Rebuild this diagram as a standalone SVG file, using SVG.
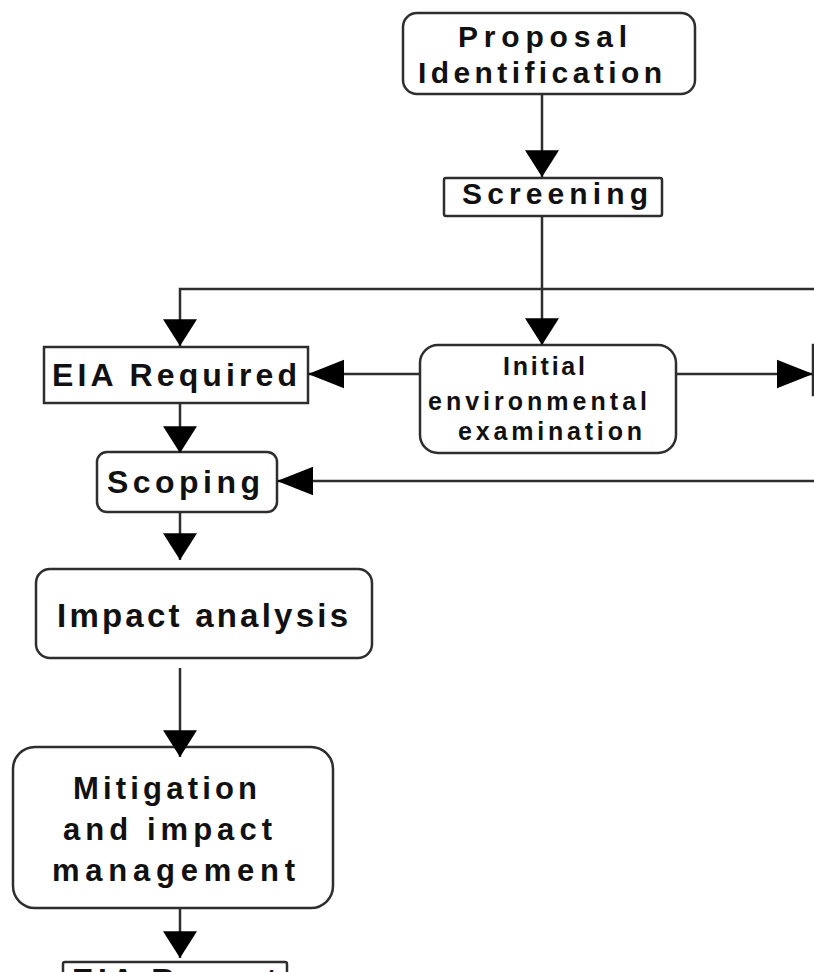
<svg xmlns="http://www.w3.org/2000/svg" width="814" height="972" viewBox="0 0 814 972">
<defs>
<style>
.box{fill:#fff;stroke:#2e2e2e;stroke-width:2.5}
.ln{fill:none;stroke:#2e2e2e;stroke-width:2.5}
.t{font-family:"Liberation Sans",Arial,sans-serif;font-weight:bold;fill:#111}
</style>
<marker id="mv" markerUnits="userSpaceOnUse" markerWidth="34" markerHeight="34" viewBox="0 0 26 33" refX="26" refY="16.5" orient="auto">
<path d="M0,0 L26,16.5 L0,33 Z" fill="#000"/>
</marker>
<marker id="mh" markerUnits="userSpaceOnUse" markerWidth="36" markerHeight="36" viewBox="0 0 34 27" refX="34" refY="13.5" orient="auto">
<path d="M0,0 L34,13.5 L0,27 Z" fill="#000"/>
</marker>
</defs>
<rect width="814" height="972" fill="#fff"/>
<g id="proposal">
<rect class="box" x="403" y="13" width="292" height="81" rx="14"/>
<text class="t" font-size="30" x="458" y="47" textLength="169" lengthAdjust="spacing">Proposal</text>
<text class="t" font-size="30" x="418" y="83" textLength="244" lengthAdjust="spacing">Identification</text>
</g>
<g id="screening">
<rect class="box" x="444" y="178" width="218" height="38" rx="2"/>
<text class="t" font-size="30" x="462" y="204" textLength="186" lengthAdjust="spacing">Screening</text>
</g>
<g id="eia-required">
<rect class="box" x="44" y="347" width="264" height="56"/>
<text class="t" font-size="32" x="52" y="386" textLength="245" lengthAdjust="spacing">EIA Required</text>
</g>
<g id="initial">
<rect class="box" x="420" y="345" width="256" height="108" rx="18"/>
<text class="t" font-size="25" x="503" y="375" textLength="82" lengthAdjust="spacing">Initial</text>
<text class="t" font-size="25" x="428" y="410" textLength="219" lengthAdjust="spacing">environmental</text>
<text class="t" font-size="25" x="458" y="440" textLength="184" lengthAdjust="spacing">examination</text>
</g>
<g id="right-node">
<rect class="box" x="813" y="345" width="60" height="50"/>
</g>
<g id="scoping">
<rect class="box" x="97" y="452" width="180" height="60" rx="10"/>
<text class="t" font-size="32" x="107" y="493" textLength="153" lengthAdjust="spacing">Scoping</text>
</g>
<g id="impact">
<rect class="box" x="36" y="569" width="336" height="89" rx="14"/>
<text class="t" font-size="33" x="57" y="627" textLength="291" lengthAdjust="spacing">Impact analysis</text>
</g>
<g id="mitigation">
<rect class="box" x="13" y="747" width="320" height="161" rx="22"/>
<text class="t" font-size="31" x="73" y="799" textLength="184" lengthAdjust="spacing">Mitigation</text>
<text class="t" font-size="31" x="63" y="840" textLength="209" lengthAdjust="spacing">and impact</text>
<text class="t" font-size="31" x="52" y="881" textLength="243" lengthAdjust="spacing">management</text>
</g>
<g id="eia-report">
<rect class="box" x="63" y="962" width="224" height="40" rx="2"/>
<text class="t" font-size="32" x="72" y="991" textLength="205" lengthAdjust="spacing">EIA Report</text>
</g>
<g id="connectors">
<line class="ln" x1="542" y1="94" x2="542" y2="177" marker-end="url(#mv)"/>
<line class="ln" x1="542" y1="216" x2="542" y2="345" marker-end="url(#mv)"/>
<polyline class="ln" points="814,289 180,289 180,346" marker-end="url(#mv)"/>
<line class="ln" x1="180" y1="403" x2="180" y2="453" marker-end="url(#mv)"/>
<line class="ln" x1="180" y1="512" x2="180" y2="560" marker-end="url(#mv)"/>
<line class="ln" x1="180" y1="668" x2="180" y2="757" marker-end="url(#mv)"/>
<line class="ln" x1="180" y1="908" x2="180" y2="958" marker-end="url(#mv)"/>
<line class="ln" x1="420" y1="374" x2="308" y2="374" marker-end="url(#mh)"/>
<line class="ln" x1="676" y1="374" x2="813" y2="374" marker-end="url(#mh)"/>
<line class="ln" x1="814" y1="481" x2="277" y2="481" marker-end="url(#mh)"/>
</g>
</svg>
